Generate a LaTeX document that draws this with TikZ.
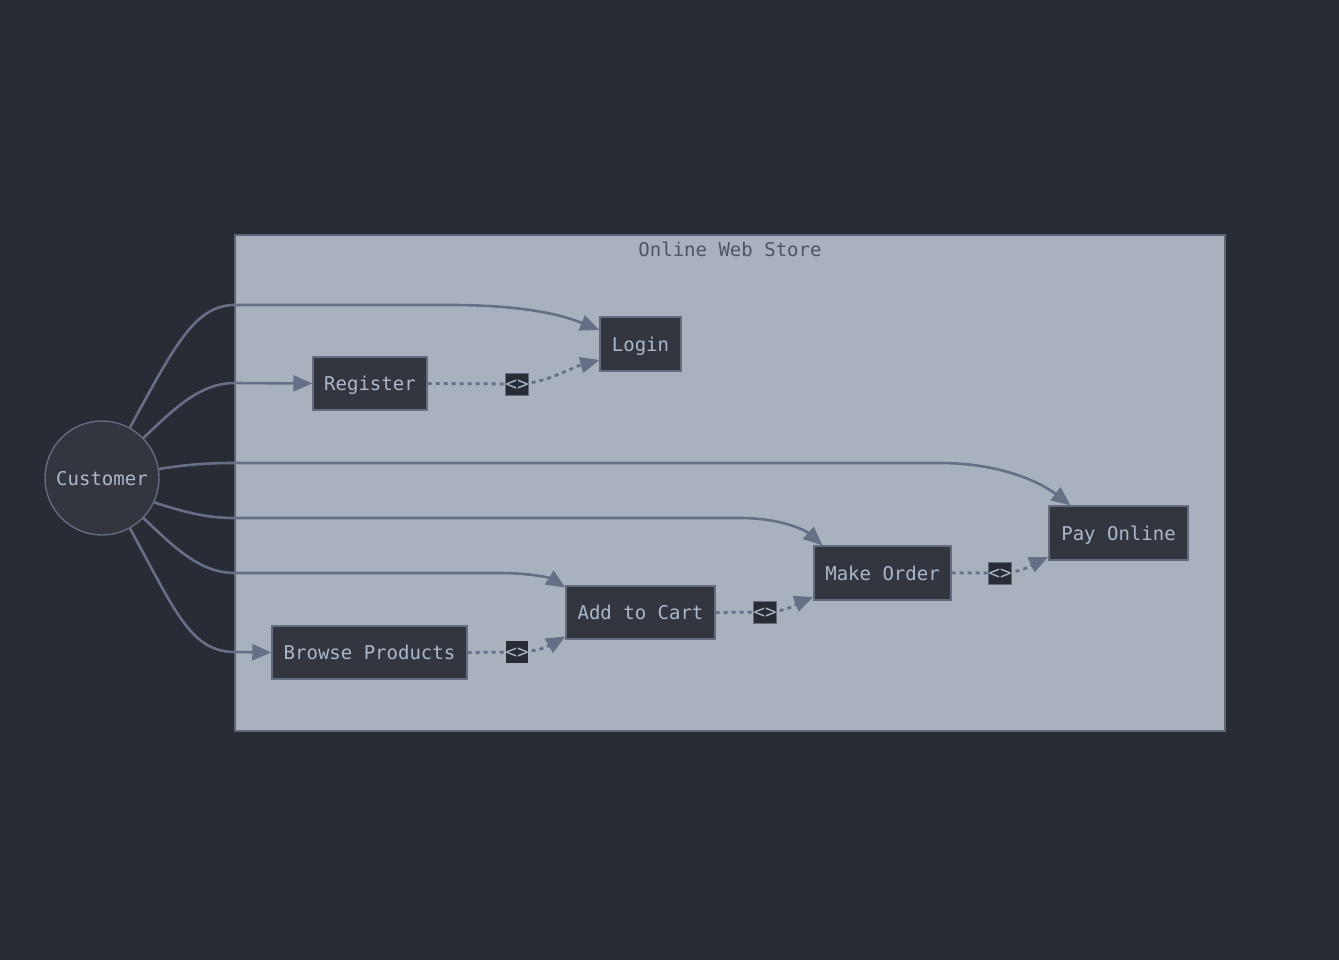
\documentclass[tikz,border=0pt]{standalone}
\usepackage{fontspec}
\newfontfamily\monofnt{DejaVu Sans Mono}
\usetikzlibrary{arrows.meta,calc}
\definecolor{bgc}{HTML}{282C34}
\definecolor{clfill}{HTML}{AAB1BE}
\definecolor{clline}{HTML}{5F6675}
\definecolor{ndfill}{HTML}{33363F}
\definecolor{ndline}{HTML}{646B7E}
\definecolor{edgec}{HTML}{676F86}
\definecolor{txtc}{HTML}{ABB8C9}
\definecolor{titc}{HTML}{4D5464}
\definecolor{lblfill}{HTML}{282C34}
\tikzset{
  usecase/.style={draw=ndline, fill=ndfill, line width=1.4pt, text=txtc, inner sep=0pt,
    text height=14pt, text depth=0pt, font=\monofnt\fontsize{19}{22}\selectfont},
  actor/.style={circle, draw=ndline, fill=ndfill, line width=1.4pt, text=txtc, minimum size=114pt, inner sep=0pt,
    text height=14pt, text depth=0pt, font=\monofnt\fontsize{19}{22}\selectfont},
  lbl/.style={draw=ndline, fill=lblfill, line width=1pt, text=txtc, inner sep=0pt, minimum width=22pt, minimum height=22pt,
    text height=12pt, text depth=0pt, font=\monofnt\fontsize{19}{20}\selectfont},
  assoc/.style={draw=edgec, line width=2.6pt, -{Triangle[length=19pt,width=16pt]}},
  incl/.style={draw=edgec, line width=2.8pt, dash pattern=on 4pt off 4pt, -{Triangle[length=19pt,width=16pt]}},
}
\begin{document}
\begin{tikzpicture}[x=1pt,y=-1pt]
\fill[bgc] (0,0) rectangle (1339,960);
\useasboundingbox (0,0) rectangle (1339,960);
% cluster
\node[draw=clline, fill=clfill, line width=1.4pt, minimum width=990pt, minimum height=496pt, inner sep=0pt] (store) at (730,483) {};
\node[text=titc, text height=14pt, text depth=0pt, font=\monofnt\fontsize{19}{22}\selectfont] (title) at (730,250) {Online Web Store};
% nodes
\node[actor] (cust) at (102,478) {Customer};
\node[usecase, minimum width=81pt, minimum height=54pt] (login) at (640.5,344) {Login};
\node[usecase, minimum width=114pt, minimum height=53pt] (reg) at (370,383.5) {Register};
\node[usecase, minimum width=139pt, minimum height=54pt] (pay) at (1118.5,533) {Pay Online};
\node[usecase, minimum width=137pt, minimum height=54pt] (order) at (882.5,573) {Make Order};
\node[usecase, minimum width=149pt, minimum height=53pt] (cart) at (640.5,612.5) {Add to Cart};
\node[usecase, minimum width=195pt, minimum height=53pt] (browse) at (369.5,652.5) {Browse Products};
% label positions
\coordinate (c1) at (517,384);
\coordinate (c2) at (517,652);
\coordinate (c3) at (765,612);
\coordinate (c4) at (1000,573);
% associations
\draw[assoc] (cust.61) .. controls (175,345) and (195,305) .. (235,305) -- (450,305)
  .. controls (520,305) and (560,314) .. ($(login.west)+(0,-14)$);
\draw[assoc] (cust.44) .. controls (175,408) and (200,383) .. (235,383) -- (reg.west);
\draw[assoc] (cust.9) .. controls (190,464) and (210,463) .. (235,463) -- (940,463)
  .. controls (1000,463) and (1040,482) .. ($(pay.north)+(-48,0)$);
\draw[assoc] (cust.-25) .. controls (190,514) and (210,518) .. (235,518) -- (740,518)
  .. controls (780,518) and (805,530) .. ($(order.north)+(-60,0)$);
\draw[assoc] (cust.-44) .. controls (175,548) and (200,573) .. (235,573) -- (500,573)
  .. controls (530,573) and (550,578) .. ($(cart.west)+(0,-25)$);
\draw[assoc] (cust.-61) .. controls (175,610) and (190,652) .. (235,652) -- (browse.west);
% includes
\draw[incl] (reg.east) -- (c1) .. controls (545,384) and (570,368) .. ($(login.west)+(0,16)$);
\draw[incl] (browse.east) -- (c2) .. controls (540,652) and (552,644) .. ($(cart.west)+(0,24)$);
\draw[incl] (cart.east) -- (c3) .. controls (788,612) and (800,602) .. ($(order.west)+(0,24)$);
\draw[incl] (order.east) -- (c4) .. controls (1023,573) and (1035,563) .. ($(pay.west)+(0,24)$);
% labels
\node[lbl] (l1) at (c1) {<>};
\node[lbl, draw=none, fill=bgc] (l2) at (c2) {<>};
\node[lbl] (l3) at (c3) {<>};
\node[lbl] (l4) at (c4) {<>};
\end{tikzpicture}
\end{document}
